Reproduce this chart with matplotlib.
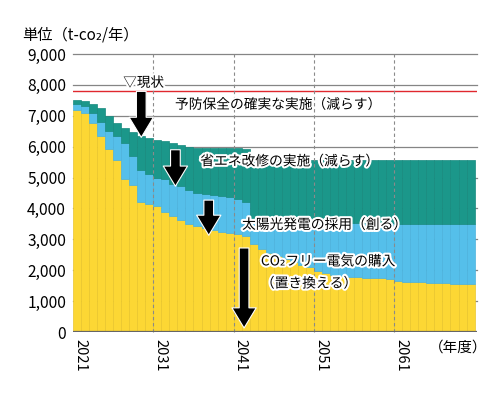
import matplotlib
matplotlib.use("Agg")
import matplotlib.pyplot as plt
import matplotlib.patheffects as pe
import numpy as np

plt.rcParams['font.family'] = ['Noto Sans CJK JP', 'DejaVu Sans']

years = list(range(2021, 2071))

# top of each stacked layer (t-CO2/year)
top_total = [7520, 7490, 7370, 7240, 7000, 6780, 6620, 6490, 6340, 6290,
             6230, 6180, 6120, 6070, 5980, 5960, 5960, 5960, 5960, 5950,
             5950, 5940, 5560, 5560, 5560, 5560, 5560, 5560, 5560, 5560,
             5560, 5560, 5560, 5560, 5560, 5560, 5560, 5560, 5560, 5560,
             5560, 5560, 5560, 5560, 5560, 5560, 5560, 5560, 5560, 5560]
top_solar = [7370, 7320, 7100, 6790, 6500, 6340, 6130, 5700, 5250, 5110,
             5000, 4950, 4790, 4720, 4600, 4500, 4460, 4430, 4400, 4360,
             4300, 4220, 3560, 3560, 3560, 3560, 3560, 3560, 3560, 3560,
             3540, 3540, 3540, 3540, 3540, 3540, 3540, 3540, 3540, 3540,
             3510, 3510, 3510, 3510, 3510, 3510, 3510, 3510, 3510, 3510]
top_co2free = [7200, 7100, 6780, 6350, 5920, 5560, 4950, 4750, 4200, 4150,
               4080, 3880, 3770, 3640, 3500, 3420, 3360, 3310, 3250, 3220,
               3170, 3120, 2850, 2680, 2560, 2460, 2370, 2270, 2180, 2100,
               1980, 1900, 1840, 1800, 1780, 1770, 1760, 1750, 1740, 1730,
               1650, 1630, 1620, 1610, 1600, 1590, 1580, 1570, 1560, 1550]
current_level = 7800

y_ticks = [0, 1000, 2000, 3000, 4000, 5000, 6000, 7000, 8000, 9000]
x_tick_years = [2021, 2031, 2041, 2051, 2061]

c_yellow = '#FCD734'
c_blue = '#55BFEA'
c_teal = '#1B978A'

fig = plt.figure(figsize=(5, 3.93), dpi=100)
ax = fig.add_axes([0.146, 0.1552, 0.808, 0.7074])

x = np.arange(len(years))
yel = np.array(top_co2free)
blu = np.array(top_solar) - yel
tea = np.array(top_total) - np.array(top_solar)

ax.bar(x, yel, width=1.0, color=c_yellow, edgecolor='#E9C62C', linewidth=0.5, zorder=2)
ax.bar(x, blu, width=1.0, bottom=yel, color=c_blue, edgecolor='#4CB2DC', linewidth=0.5, zorder=2)
ax.bar(x, tea, width=1.0, bottom=yel + blu, color=c_teal, edgecolor='#178A7E', linewidth=0.5, zorder=2)

ax.set_xlim(-0.5, 49.8)
ax.set_ylim(0, 9000)

for t in y_ticks[1:]:
    ax.axhline(t, color='#858585', lw=0.9, zorder=1, clip_on=False)
ax.axhline(current_level, color='#E0282E', lw=1.0, zorder=3)
ax.axhline(0, color='#666666', lw=1.6, zorder=4)

for yr in x_tick_years[1:]:
    xi = years.index(yr) - 0.5
    ax.plot([xi, xi], [0, 9000], color='#8A8A8A', lw=0.8, ls=(0, (3, 2.5)), zorder=3, clip_on=False)

for s in ax.spines.values():
    s.set_visible(False)

ax.set_yticks(y_ticks)
ax.set_yticklabels([f"{v:,}" for v in y_ticks], fontsize=11.2)
ax.set_xticks([years.index(y) + 0.4 for y in x_tick_years])
ax.set_xticklabels([str(y) for y in x_tick_years], rotation=-90, fontsize=10.5, va='top', ha='center')
ax.tick_params(axis='both', length=0)
ax.tick_params(axis='y', pad=5)
ax.tick_params(axis='x', pad=5)

fig.text(0.044, 0.9097, '単位（t-co₂/年）', fontsize=11, va='center', ha='left')
fig.text(0.858, 0.1145, '（年度）', fontsize=10.5, va='center', ha='left')

halo = [pe.withStroke(linewidth=3, foreground='white')]
ax.text(5.75, 8070, '▽現状', fontsize=9.8, va='center', ha='left', path_effects=halo, zorder=6)
ax.text(12.2, 7360, '予防保全の確実な実施（減らす）', fontsize=9.9, va='center', ha='left', path_effects=halo, zorder=6)
ax.text(15.35, 5525, '省エネ改修の実施（減らす）', fontsize=9.9, va='center', ha='left', path_effects=halo, zorder=6)
ax.text(20.55, 3470, '太陽光発電の採用（創る）', fontsize=9.9, va='center', ha='left', path_effects=halo, zorder=6)
ax.text(22.9, 2285, 'CO₂フリー電気の購入', fontsize=9.9, va='center', ha='left', path_effects=halo, zorder=6)
ax.text(22.9, 1570, '（置き換える）', fontsize=9.9, va='center', ha='left', path_effects=halo, zorder=6)

arrow_style = 'simple,head_length=1.45,head_width=1.75,tail_width=0.7'
arrows = [(8.0, 7790, 6300), (12.25, 5900, 4720), (16.4, 4270, 3130), (20.8, 2720, 130)]
for ax_x, y0, y1 in arrows:
    ax.annotate('', xy=(ax_x, y1), xytext=(ax_x, y0),
                arrowprops=dict(arrowstyle=arrow_style, mutation_scale=10,
                                fc='black', ec='white', lw=0.8, shrinkA=0, shrinkB=0),
                zorder=7)

fig.savefig('out.png', dpi=100)
